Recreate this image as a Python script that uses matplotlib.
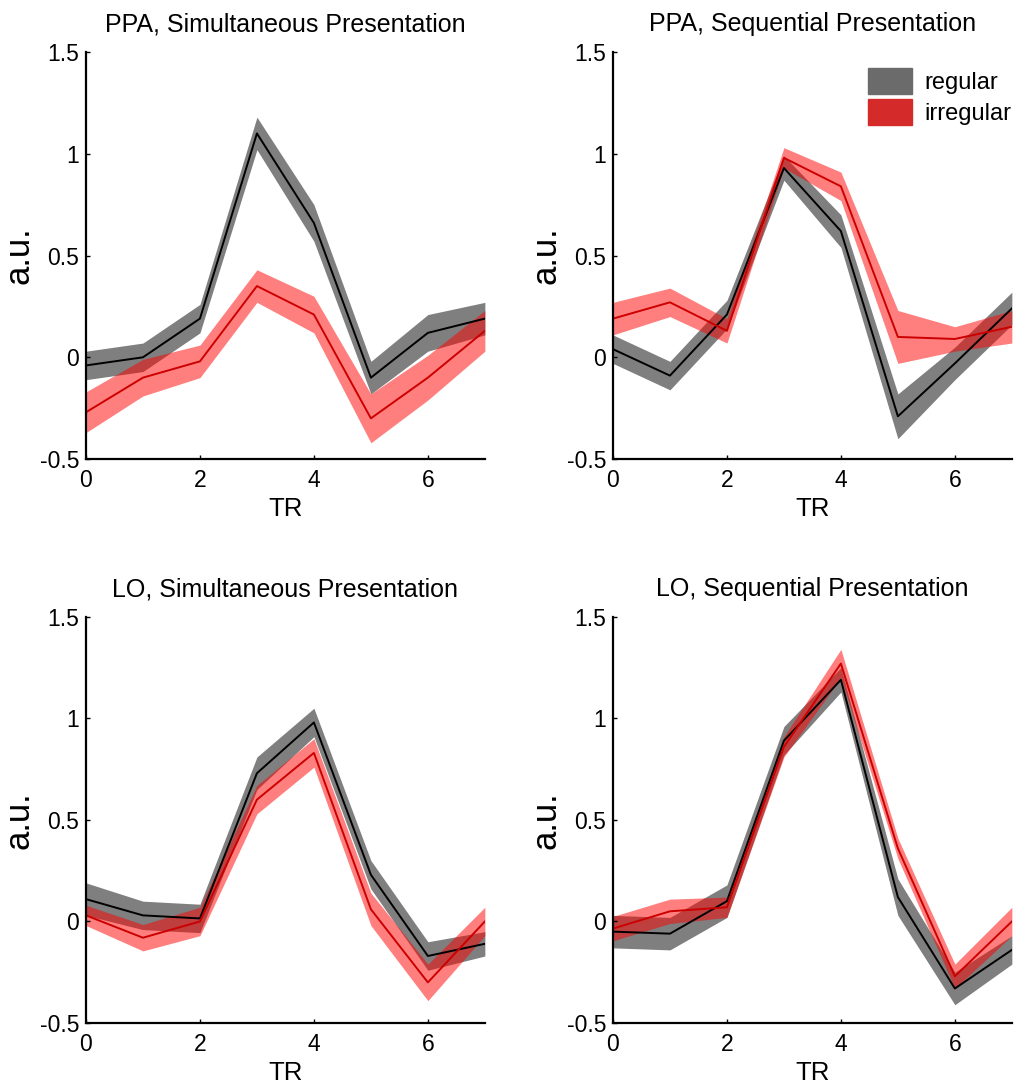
import numpy as np
import matplotlib
matplotlib.use("Agg")
import matplotlib.pyplot as plt
from matplotlib.patches import Patch

plt.rcParams['font.family'] = ['Liberation Sans', 'DejaVu Sans']

tr = [0, 1, 2, 3, 4, 5, 6, 7]

# PPA, simultaneous
ppa_sim_reg = [-0.04, 0.0, 0.19, 1.10, 0.66, -0.10, 0.12, 0.19]
ppa_sim_reg_err = [0.07, 0.07, 0.07, 0.08, 0.09, 0.08, 0.09, 0.08]
ppa_sim_irr = [-0.27, -0.10, -0.02, 0.35, 0.21, -0.30, -0.10, 0.13]
ppa_sim_irr_err = [0.10, 0.09, 0.08, 0.08, 0.09, 0.12, 0.11, 0.10]

# PPA, sequential
ppa_seq_reg = [0.04, -0.09, 0.21, 0.93, 0.62, -0.29, -0.03, 0.24]
ppa_seq_reg_err = [0.07, 0.07, 0.07, 0.06, 0.08, 0.11, 0.08, 0.08]
ppa_seq_irr = [0.19, 0.27, 0.13, 0.98, 0.84, 0.10, 0.09, 0.15]
ppa_seq_irr_err = [0.08, 0.07, 0.06, 0.05, 0.07, 0.13, 0.06, 0.08]

# LO, simultaneous
lo_sim_reg = [0.11, 0.03, 0.015, 0.73, 0.98, 0.23, -0.17, -0.11]
lo_sim_reg_err = [0.08, 0.07, 0.07, 0.08, 0.07, 0.07, 0.07, 0.06]
lo_sim_irr = [0.03, -0.08, 0.0, 0.60, 0.83, 0.06, -0.30, 0.0]
lo_sim_irr_err = [0.05, 0.065, 0.07, 0.07, 0.07, 0.08, 0.09, 0.07]

# LO, sequential
lo_seq_reg = [-0.05, -0.06, 0.10, 0.89, 1.19, 0.12, -0.33, -0.14]
lo_seq_reg_err = [0.08, 0.08, 0.08, 0.07, 0.06, 0.09, 0.08, 0.07]
lo_seq_irr = [-0.035, 0.05, 0.07, 0.86, 1.27, 0.36, -0.27, 0.0]
lo_seq_irr_err = [0.06, 0.06, 0.05, 0.05, 0.07, 0.05, 0.06, 0.07]

titles = ["PPA, Simultaneous Presentation", "PPA, Sequential Presentation",
          "LO, Simultaneous Presentation", "LO, Sequential Presentation"]
panels = [
    (ppa_sim_reg, ppa_sim_reg_err, ppa_sim_irr, ppa_sim_irr_err),
    (ppa_seq_reg, ppa_seq_reg_err, ppa_seq_irr, ppa_seq_irr_err),
    (lo_sim_reg, lo_sim_reg_err, lo_sim_irr, lo_sim_irr_err),
    (lo_seq_reg, lo_seq_reg_err, lo_seq_irr, lo_seq_irr_err),
]

fig = plt.figure(figsize=(10.15, 10.86), dpi=100)
boxes = [
    [0.0847, 0.5773, 0.393, 0.3748],
    [0.6039, 0.5773, 0.393, 0.3748],
    [0.0847, 0.0580, 0.393, 0.3740],
    [0.6039, 0.0580, 0.393, 0.3740],
]

x = np.array(tr)
for box, title, (reg, reg_e, irr, irr_e) in zip(boxes, titles, panels):
    ax = fig.add_axes(box)
    reg, reg_e, irr, irr_e = map(np.array, (reg, reg_e, irr, irr_e))
    # shaded bands = mean +/- error, lines = mean
    ax.fill_between(x, reg - reg_e, reg + reg_e, color='black', alpha=0.5, lw=0)
    ax.fill_between(x, irr - irr_e, irr + irr_e, color='red', alpha=0.5, lw=0)
    ax.plot(x, reg, color='black', lw=1.4)
    ax.plot(x, irr, color='#cc0000', lw=1.4)

    ax.set_xlim(0, 7)
    ax.set_ylim(-0.5, 1.5)
    ax.set_xticks([0, 2, 4, 6])
    ax.set_yticks([-0.5, 0, 0.5, 1, 1.5])
    ax.set_yticklabels(['-0.5', '0', '0.5', '1', '1.5'])
    ax.tick_params(direction='in', length=3, width=1, labelsize=16.5)
    ax.tick_params(axis='x', pad=7)
    ax.tick_params(axis='y', pad=5)
    for side in ('top', 'right'):
        ax.spines[side].set_visible(False)
    for side in ('left', 'bottom'):
        ax.spines[side].set_linewidth(1.6)

    ax.set_title(title, fontsize=18, pad=15)
    ax.set_xlabel("TR", fontsize=18.5, labelpad=4)
    ax.set_ylabel("a.u.", fontsize=25, labelpad=3)

    if title == "PPA, Sequential Presentation":
        handles = [Patch(facecolor='#6b6b6b', edgecolor='#6b6b6b'),
                   Patch(facecolor='#d42a2a', edgecolor='#d42a2a')]
        ax.legend(handles, ['regular', 'irregular'], loc='upper right',
                  bbox_to_anchor=(1.0, 0.96), frameon=False, fontsize=17,
                  borderpad=0, borderaxespad=0,
                  handlelength=1.85, handleheight=1.3, handletextpad=0.55,
                  labelspacing=0.2)

fig.savefig("out.png", dpi=100)
